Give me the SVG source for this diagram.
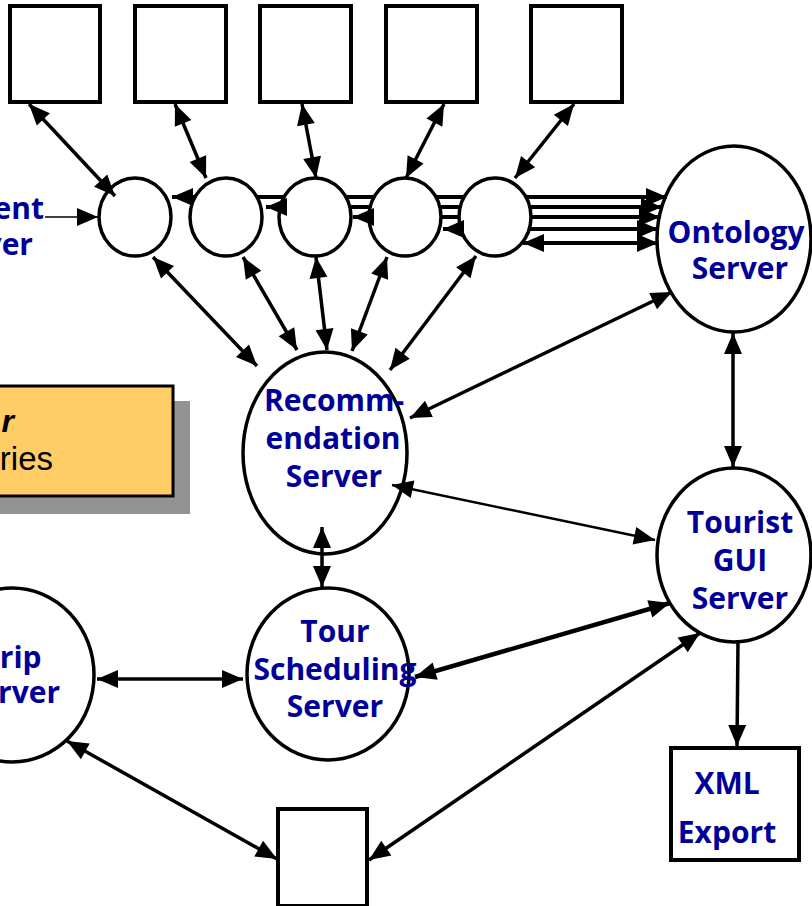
<svg xmlns="http://www.w3.org/2000/svg" width="812" height="906" viewBox="0 0 812 906">
<style>
.nd{fill:#fff;stroke:#000;stroke-width:3.5}
.bx{fill:#fff;stroke:#000;stroke-width:4}
.lb{font-family:"Open Sans","DejaVu Sans",sans-serif;font-weight:bold;font-size:30px;fill:#000099;text-anchor:middle}
.c{fill:none;stroke:#000;stroke-width:3.5}
.c2{fill:none;stroke:#000;stroke-width:3.5;marker-start:url(#ah);marker-end:url(#ah)}
</style>
<defs>
<marker id="ah" markerUnits="userSpaceOnUse" markerWidth="22" markerHeight="18" refX="21" refY="9" orient="auto-start-reverse" overflow="visible">
<path d="M0,0 L21,9 L0,18 z" fill="#000"/>
</marker>
</defs>
<rect width="812" height="906" fill="#fff"/>

<g id="note">
<rect x="-20" y="401" width="210" height="113" fill="#939393"/>
<rect x="-30" y="386" width="203" height="110" fill="#FFCC66" stroke="#000" stroke-width="3"/>
<text x="14" y="432" font-family="Liberation Sans,Arial,sans-serif" font-size="32" font-weight="bold" font-style="italic" text-anchor="end">r</text>
<text x="53" y="470" font-family="Liberation Sans,Arial,sans-serif" font-size="33" text-anchor="end">ries</text>
</g>

<g id="box1"><rect class="bx" x="10" y="6" width="90" height="96"/></g>
<g id="box2"><rect class="bx" x="135" y="6" width="91" height="96"/></g>
<g id="box3"><rect class="bx" x="260" y="6" width="91" height="96"/></g>
<g id="box4"><rect class="bx" x="386" y="6" width="91" height="96"/></g>
<g id="box5"><rect class="bx" x="531" y="6" width="91" height="96"/></g>

<g id="agent1"><ellipse class="nd" cx="135" cy="217" rx="36" ry="39"/></g>
<g id="agent2"><ellipse class="nd" cx="226" cy="217" rx="36" ry="39"/></g>
<g id="agent3"><ellipse class="nd" cx="315" cy="217" rx="36" ry="39"/></g>
<g id="agent4"><ellipse class="nd" cx="405" cy="217" rx="36" ry="39"/></g>
<g id="agent5"><ellipse class="nd" cx="495" cy="217" rx="36" ry="39"/></g>

<g id="agent-label">
<text class="lb" x="44" y="219" style="text-anchor:end">ent</text>
<text class="lb" x="33" y="255" style="text-anchor:end">ver</text>
</g>

<g id="ontology">
<ellipse class="nd" cx="734" cy="239" rx="77" ry="93"/>
<text class="lb" x="736" y="243">Ontology</text>
<text class="lb" x="740" y="279">Server</text>
</g>

<g id="recommendation">
<ellipse class="nd" cx="325" cy="453" rx="82" ry="101"/>
<text class="lb" x="334" y="411">Recomm-</text>
<text class="lb" x="333" y="449">endation</text>
<text class="lb" x="334" y="487">Server</text>
</g>

<g id="tourist-gui">
<ellipse class="nd" cx="734" cy="555" rx="77" ry="87"/>
<text class="lb" x="740" y="533">Tourist</text>
<text class="lb" x="740" y="571">GUI</text>
<text class="lb" x="740" y="609">Server</text>
</g>

<g id="tour-scheduling">
<ellipse class="nd" cx="328" cy="674" rx="81" ry="86"/>
<text class="lb" x="335" y="642">Tour</text>
<text class="lb" x="335" y="680">Scheduling</text>
<text class="lb" x="335" y="717">Server</text>
</g>

<g id="trip">
<ellipse class="nd" cx="12" cy="675" rx="82" ry="87"/>
<text class="lb" x="12" y="668">Trip</text>
<text class="lb" x="12" y="703">Server</text>
</g>

<g id="xml-export">
<rect class="bx" x="671" y="748" width="128" height="112"/>
<text class="lb" x="727" y="794">XML</text>
<text class="lb" x="727" y="843">Export</text>
</g>

<g id="box6"><rect class="bx" x="278" y="809" width="89" height="97"/></g>

<g id="connectors">
<path class="c2" d="M29,104 L115,196"/>
<path class="c2" d="M175,104 L206,178"/>
<path class="c2" d="M302,104 L316,178"/>
<path class="c2" d="M444,104 L406,178"/>
<path class="c2" d="M574,104 L515,178"/>

<path class="c2" d="M153,257 L257,366"/>
<path class="c2" d="M243,257 L297,350"/>
<path class="c2" d="M316,257 L327,350"/>
<path class="c2" d="M387,257 L352,351"/>
<path class="c2" d="M476,256 L390,370"/>

<g style="stroke-width:4">
<path class="c2" style="stroke-width:4" d="M172,197 H195 M257,197 H284 M346,197 H374 M436,197 H464 M526,197 H667"/>
<path class="c2" style="stroke-width:4" d="M266,207 H280 M350,207 H370 M440,207 H460 M530,207 H662"/>
<path class="c2" style="stroke-width:4" d="M353,217 H369 M441,217 H459 M531,217 H660"/>
<path class="c2" style="stroke-width:4" d="M443,229 H461 M529,229 H658"/>
<path class="c2" style="stroke-width:4" d="M523,243 H658"/>
</g>

<path d="M45,217 H98" fill="none" stroke="#000" stroke-width="1.5" marker-end="url(#ah)"/>

<path class="c2" d="M672,292 L410,418"/>
<path class="c2" d="M733,333 L733,467"/>
<path class="c2" d="M392,485 L655,540" style="stroke-width:2.5"/>
<path class="c2" d="M322,527 L322,587"/>
<path class="c2" d="M415,677 L670,603" style="stroke-width:4.5"/>
<path class="c2" d="M97,679 L243,679"/>
<path class="c2" d="M67,741 L277,859"/>
<path class="c2" d="M700,633 L369,860"/>
<path class="c" d="M738,640 L737,746" marker-end="url(#ah)"/>
</g>
</svg>
